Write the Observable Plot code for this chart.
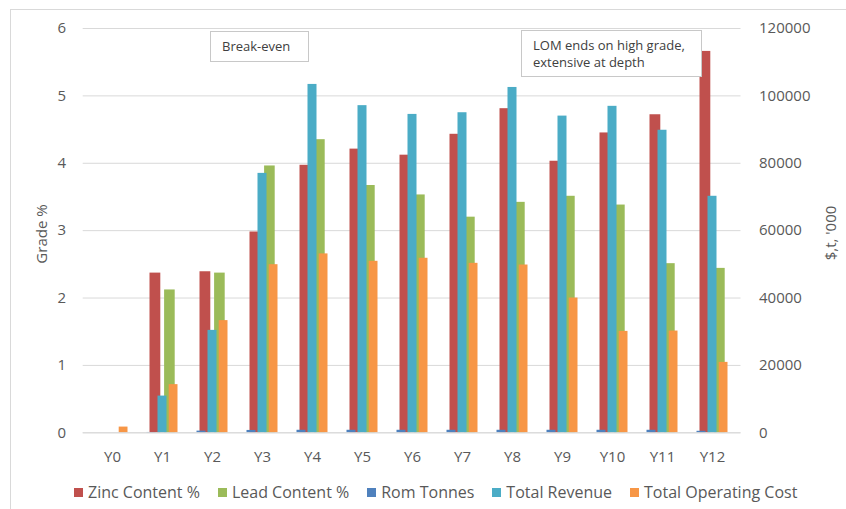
<!DOCTYPE html>
<html>
<head>
<meta charset="utf-8">
<script src="https://cdn.jsdelivr.net/npm/d3@7"></script>
<script src="https://cdn.jsdelivr.net/npm/@observablehq/plot@0.6"></script>
<style>
  html, body { margin: 0; padding: 0; background: #fff; overflow: hidden; }
  #wrap { position: relative; width: 846px; height: 509px; overflow: hidden; font-family: "Open Sans", sans-serif; color: #595959; }
  #border { position: absolute; left: 10px; top: 9px; width: 900px; height: 600px; border: 1px solid #d9d9d9; box-sizing: border-box; }
  #chart { position: absolute; left: 0; top: 0; }
  .note { position: absolute; border: 1px solid #c8c8c8; background: #fff; box-sizing: border-box; font-size: 13px; color: #404040; padding-left: 11px; line-height: 17px; }
  .ytitle { position: absolute; font-size: 15px; color: #595959; white-space: nowrap; transform: translate(-50%, -50%) rotate(-90deg); }
  #legend { position: absolute; left: 74px; top: 481px; display: flex; gap: 18px; font-size: 16px; color: #595959; white-space: nowrap; }
  #legend .item { display: flex; align-items: center; gap: 5px; }
  #legend .sw { width: 9px; height: 9px; display: inline-block; }
</style>
</head>
<body>
<div id="wrap">
  <div id="border"></div>
  <div id="chart"></div>
</div>
<script>
const years = ["Y0","Y1","Y2","Y3","Y4","Y5","Y6","Y7","Y8","Y9","Y10","Y11","Y12"];
const zincContent = [0, 2.37, 2.39, 2.98, 3.97, 4.21, 4.12, 4.43, 4.81, 4.03, 4.45, 4.72, 5.66];
const leadContent = [0, 2.12, 2.37, 3.96, 4.35, 3.67, 3.53, 3.20, 3.42, 3.51, 3.38, 2.51, 2.44];
const romTonnes = [0, 100, 500, 700, 750, 750, 750, 750, 750, 750, 750, 750, 450];
const totalRevenue = [0, 10900, 30400, 77000, 103400, 97100, 94500, 95000, 102500, 94000, 96900, 89800, 70200];
const totalOpCost = [1700, 14300, 33300, 49900, 53100, 50900, 51800, 50300, 49800, 40000, 30100, 30200, 20900];
const leftTicks = [0, 1, 2, 3, 4, 5, 6];
const rightTicks = [0, 20000, 40000, 60000, 80000, 100000, 120000];
const seriesNames = ["Zinc Content %", "Lead Content %", "Rom Tonnes", "Total Revenue", "Total Operating Cost"];
const seriesColors = ["#C0504D", "#9BBB59", "#4F81BD", "#4BACC6", "#F79646"];

const k = rightTicks[rightTicks.length - 1] / leftTicks[leftTicks.length - 1];
const rows = years.map((year, i) => ({
  year,
  zinc: zincContent[i],
  lead: leadContent[i],
  rom: romTonnes[i] / k,
  revenue: totalRevenue[i] / k,
  opcost: totalOpCost[i] / k
}));

const W = 846, H = 509, ml = 82.7, mr = 105.5, mt = 28, mb = 76.7;
const bw = (W - ml - mr) / years.length;
const slot = (a, b) => ({ insetLeft: bw / 2 + a, insetRight: bw / 2 - b });

const plot = Plot.plot({
  width: W, height: H,
  marginLeft: ml, marginRight: mr, marginTop: mt, marginBottom: mb,
  style: { fontFamily: "Open Sans", fontSize: "15px", color: "#595959", background: "transparent" },
  x: { type: "band", domain: years, padding: 0, axis: null },
  y: { domain: [0, 6], axis: null },
  marks: [
    Plot.gridY(leftTicks, { stroke: "#d9d9d9", strokeOpacity: 1 }),
    Plot.barY(rows, { x: "year", y: "zinc", fill: seriesColors[0], ...slot(-12.8, -1.4) }),
    Plot.barY(rows, { x: "year", y: "lead", fill: seriesColors[1], ...slot(1.8, 13.0) }),
    Plot.barY(rows, { x: "year", y: "rom", fill: seriesColors[2], ...slot(-15.8, -6.2) }),
    Plot.barY(rows, { x: "year", y: "revenue", fill: seriesColors[3], ...slot(-4.8, 4.8) }),
    Plot.barY(rows, { x: "year", y: "opcost", fill: seriesColors[4], ...slot(6.4, 15.8) }),
    Plot.ruleY([0], { stroke: "#d9d9d9" }),
    Plot.axisX({ tickSize: 0, tickPadding: 19, label: null }),
    Plot.axisY(leftTicks, { anchor: "left", tickSize: 0, tickPadding: 17, label: null, tickFormat: d => String(d) }),
    Plot.axisY(rightTicks.map(v => v / k), { anchor: "right", tickSize: 0, tickPadding: 18, label: null, tickFormat: d => String(Math.round(d * k)) })
  ]
});
document.getElementById("chart").appendChild(plot);

const wrap = document.getElementById("wrap");
function addNote(left, top, w, h, lines, padTop) {
  const d = document.createElement("div");
  d.className = "note";
  Object.assign(d.style, { left: left + "px", top: top + "px", width: w + "px", height: h + "px", paddingTop: padTop + "px" });
  d.innerHTML = lines.join("<br>");
  wrap.appendChild(d);
}
addNote(210, 31, 99, 31, ["Break-even"], 6);
addNote(521, 30, 181, 47, ["LOM ends on high grade,", "extensive at depth"], 6);

function addTitle(text, cx, cy) {
  const s = document.createElement("div");
  s.className = "ytitle";
  s.textContent = text;
  Object.assign(s.style, { left: cx + "px", top: cy + "px" });
  wrap.appendChild(s);
}
addTitle("Grade %", 41, 234);
addTitle("$,t, '000", 830, 233);

const legend = document.createElement("div");
legend.id = "legend";
seriesNames.forEach((name, i) => {
  const it = document.createElement("div");
  it.className = "item";
  it.innerHTML = `<span class="sw" style="background:${seriesColors[i]}"></span><span>${name}</span>`;
  legend.appendChild(it);
});
wrap.appendChild(legend);
</script>
</body>
</html>
